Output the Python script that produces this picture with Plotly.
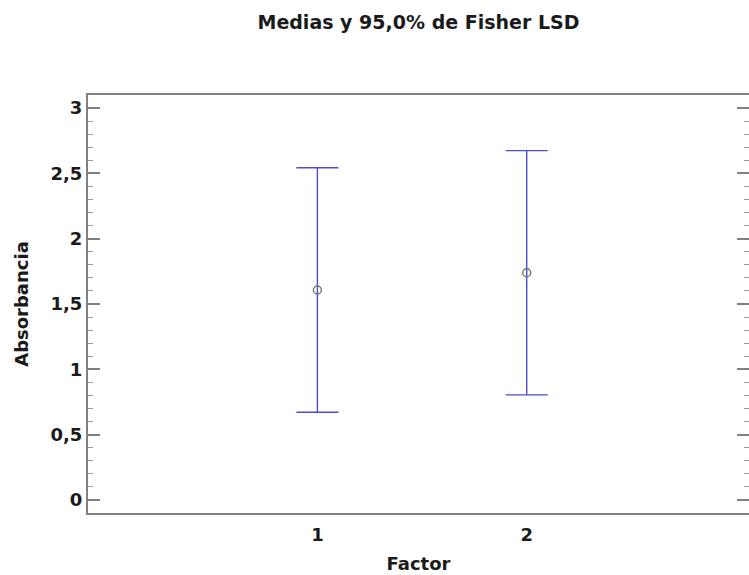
import plotly.graph_objects as go

# Group means and 95% Fisher LSD half-widths
factor_levels = ["1", "2"]
factor_pos = [1, 2]
means = [1.607, 1.739]
lsd_halfwidth = [0.936, 0.935]

y_tickvals = [0, 0.5, 1, 1.5, 2, 2.5, 3]
y_ticktext = ["0", "0,5", "1", "1,5", "2", "2,5", "3"]

font_family = "DejaVu Sans, Verdana, sans-serif"
axis_grey = "#808080"
text_color = "#1a1a1a"

fig = go.Figure()

fig.add_trace(go.Scatter(
    x=factor_pos,
    y=means,
    mode="markers",
    marker=dict(symbol="circle-open", size=8, color="#77775f", line=dict(width=1.4)),
    error_y=dict(type="data", array=lsd_halfwidth, visible=True,
                 color="#4c4cd2", thickness=1.4, width=21),
    showlegend=False,
    hoverinfo="x+y",
))

# invisible companion trace so the right-hand tick axis is drawn
fig.add_trace(go.Scatter(x=factor_pos, y=means, yaxis="y2", mode="none",
                         showlegend=False, hoverinfo="skip"))

y_common = dict(
    range=[-0.1, 3.1],
    tickvals=y_tickvals,
    ticks="inside",
    ticklen=12,
    tickwidth=1.5,
    tickcolor=axis_grey,
    showgrid=False,
    zeroline=False,
    minor=dict(dtick=0.1, ticks="inside", ticklen=5, tickwidth=1, tickcolor="#999999"),
)

fig.update_layout(
    width=749,
    height=575,
    margin=dict(l=88, r=0, t=95, b=62),
    paper_bgcolor="white",
    plot_bgcolor="white",
    font=dict(family=font_family, color=text_color),
    title=dict(
        text="<b>Medias y 95,0% de Fisher LSD</b>",
        x=0.5, xref="paper", xanchor="center",
        y=1 - 22 / 575, yref="container", yanchor="middle",
        font=dict(size=19, family=font_family, color=text_color),
    ),
    xaxis=dict(
        range=[-0.096, 3.062],
        tickvals=factor_pos,
        ticktext=[f"<b>{t}</b>" for t in factor_levels],
        tickfont=dict(size=18),
        ticklabelstandoff=4,
        ticks="",
        showgrid=False,
        zeroline=False,
        showline=True,
        linecolor=axis_grey,
        linewidth=2,
        mirror=True,
        title=dict(text="<b>Factor</b>", font=dict(size=18), standoff=14),
    ),
    yaxis=dict(
        **y_common,
        ticktext=[f"<b>{t}</b>" for t in y_ticktext],
        tickfont=dict(size=18),
        showline=True,
        linecolor=axis_grey,
        linewidth=2,
        title=dict(text="<b>Absorbancia</b>", font=dict(size=18), standoff=17),
    ),
    yaxis2=dict(
        **y_common,
        overlaying="y",
        side="right",
        showticklabels=False,
        showline=False,
    ),
)

fig.write_html("out.html")
